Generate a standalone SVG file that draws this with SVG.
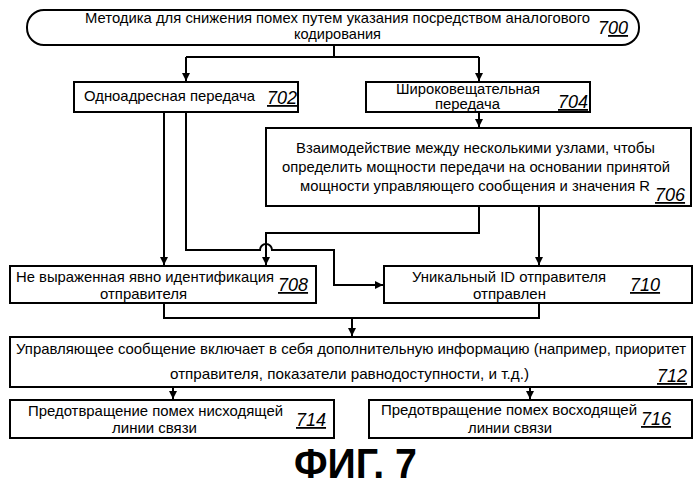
<svg xmlns="http://www.w3.org/2000/svg" width="699" height="491" viewBox="0 0 699 491">
<defs>
<marker id="ah" markerWidth="10" markerHeight="10" refX="9" refY="5" orient="auto" markerUnits="userSpaceOnUse"><path d="M1,1 L9,5 L1,9 Z" fill="#000"/></marker>
<style>
.b{fill:#fff;stroke:#000;stroke-width:2}
.t{font-family:"Liberation Sans",Arial,sans-serif;font-size:15px;fill:#000}
.s{font-size:14px}
.n{font-family:"Liberation Sans",Arial,sans-serif;font-size:18px;font-style:italic;fill:#000;text-decoration:underline}
.c{fill:none;stroke:#000;stroke-width:2}
</style>
</defs>
<rect width="699" height="491" fill="#fff"/>
<g id="connectors" class="c">
<path d="M334,45 V57 M186,57 H479"/>
<path d="M186,57 V81" marker-end="url(#ah)"/>
<path d="M479,57 V81" marker-end="url(#ah)"/>
<path d="M479,112 V127" marker-end="url(#ah)"/>
<path d="M164,112 V265" marker-end="url(#ah)"/>
<path d="M186,112 V250 H260 A6,6 0 0 1 272,250 H334 V285 H383" marker-end="url(#ah)"/>
<path d="M479,206 V233 H266 V265" marker-end="url(#ah)"/>
<path d="M539,206 V265" marker-end="url(#ah)"/>
<path d="M164,303 V318 H539 V303"/>
<path d="M352,318 V336" marker-end="url(#ah)"/>
<path d="M173,387 V399" marker-end="url(#ah)"/>
<path d="M530,387 V399" marker-end="url(#ah)"/>
</g>
<g id="n700"><rect class="b" x="27" y="10" width="612" height="35" rx="17"/>
<text class="t" x="85" y="23" textLength="505" lengthAdjust="spacingAndGlyphs">Методика для снижения помех путем указания посредством аналогового</text>
<text class="t" x="294" y="39" textLength="87" lengthAdjust="spacingAndGlyphs">кодирования</text>
<text class="n" x="598" y="34" style="text-decoration:none">7<tspan text-decoration="underline">00</tspan></text></g>
<g id="n702"><rect class="b" x="74" y="82" width="224" height="30"/>
<text class="t" x="84" y="101" textLength="171" lengthAdjust="spacingAndGlyphs">Одноадресная передача</text>
<text class="n" x="267" y="104">702</text></g>
<g id="n704"><rect class="b" x="366" y="82" width="224" height="30"/>
<text class="t s" x="396" y="94" textLength="144" lengthAdjust="spacingAndGlyphs">Широковещательная</text>
<text class="t s" x="435" y="109" textLength="65" lengthAdjust="spacingAndGlyphs">передача</text>
<text class="n" x="558" y="108">704</text></g>
<g id="n706"><rect class="b" x="266" y="128" width="425" height="78"/>
<text class="t" x="296" y="153" textLength="359" lengthAdjust="spacingAndGlyphs">Взаимодействие между несколькими узлами, чтобы</text>
<text class="t" x="282" y="172" textLength="388" lengthAdjust="spacingAndGlyphs">определить мощности передачи на основании принятой</text>
<text class="t" x="300" y="191" textLength="350" lengthAdjust="spacingAndGlyphs">мощности управляющего сообщения и значения R</text>
<text class="n" x="655" y="201">706</text></g>
<g id="n708"><rect class="b" x="10" y="266" width="306" height="37"/>
<text class="t" x="16" y="282" textLength="258" lengthAdjust="spacingAndGlyphs">Не выраженная явно идентификация</text>
<text class="t" x="100" y="299" textLength="87" lengthAdjust="spacingAndGlyphs">отправителя</text>
<text class="n" x="278" y="291">708</text></g>
<g id="n710"><rect class="b" x="384" y="266" width="308" height="37"/>
<text class="t" x="412" y="282" textLength="194" lengthAdjust="spacingAndGlyphs">Уникальный ID отправителя</text>
<text class="t" x="473" y="299" textLength="73" lengthAdjust="spacingAndGlyphs">отправлен</text>
<text class="n" x="630" y="291">710</text></g>
<g id="n712"><rect class="b" x="10" y="337" width="682" height="50"/>
<text class="t" x="16" y="354" textLength="670" lengthAdjust="spacingAndGlyphs">Управляющее сообщение включает в себя дополнительную информацию (например, приоритет</text>
<text class="t" x="170" y="379" textLength="359" lengthAdjust="spacingAndGlyphs">отправителя, показатели равнодоступности, и т.д.)</text>
<text class="n" x="657" y="382">712</text></g>
<g id="n714"><rect class="b" x="10" y="400" width="324" height="38"/>
<text class="t" x="28" y="416" textLength="255" lengthAdjust="spacingAndGlyphs">Предотвращение помех нисходящей</text>
<text class="t" x="112" y="433" textLength="85" lengthAdjust="spacingAndGlyphs">линии связи</text>
<text class="n" x="296" y="426">714</text></g>
<g id="n716"><rect class="b" x="369" y="400" width="323" height="38"/>
<text class="t" x="381" y="415" textLength="256" lengthAdjust="spacingAndGlyphs">Предотвращение помех восходящей</text>
<text class="t" x="468" y="433" textLength="84" lengthAdjust="spacingAndGlyphs">линии связи</text>
<text class="n" x="641" y="425">716</text></g>
<text x="294" y="478" textLength="123" lengthAdjust="spacingAndGlyphs" style="font-family:'Liberation Sans',Arial,sans-serif;font-size:42px;font-weight:bold">ФИГ. 7</text>
</svg>
